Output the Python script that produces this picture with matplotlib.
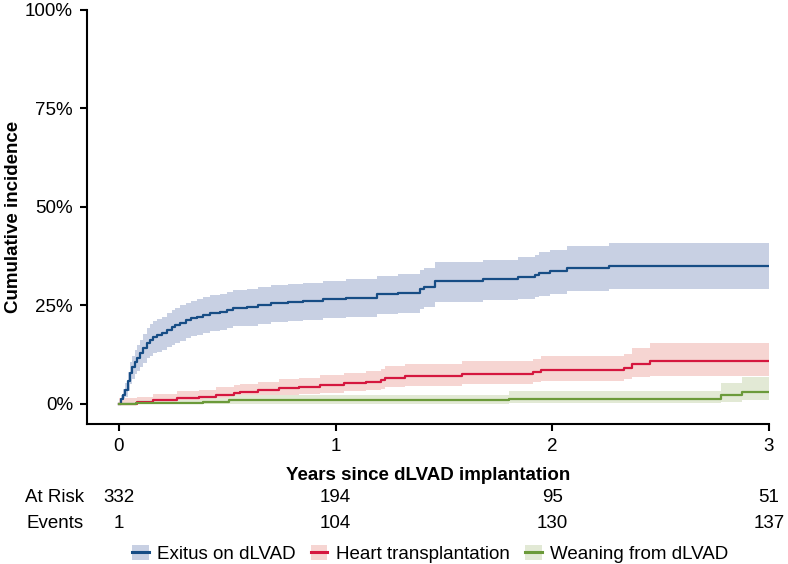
import matplotlib.pyplot as plt
import numpy as np
from matplotlib.patches import Patch
from matplotlib.lines import Line2D
from matplotlib import transforms

plt.rcParams['font.family'] = ['Liberation Sans', 'DejaVu Sans']

# exitus on dLVAD
exitus_t = [0, 0.01, 0.02, 0.028, 0.04, 0.05, 0.062, 0.074, 0.085, 0.097, 0.113, 0.129, 0.143,
            0.157, 0.175, 0.198, 0.22, 0.244, 0.26, 0.28, 0.31, 0.335, 0.36, 0.39, 0.42, 0.465,
            0.5, 0.525, 0.59, 0.64, 0.7, 0.78, 0.85, 0.94, 1.05, 1.19, 1.29, 1.39, 1.41, 1.46,
            1.68, 1.84, 1.92, 1.94, 1.99, 2.07, 2.26]
exitus_v = [0, 1.2, 2.4, 3.6, 5.8, 7.9, 9.3, 10.7, 11.8, 12.9, 14.2, 15.5, 16.2,
            17.0, 17.5, 18.0, 18.8, 19.5, 20.0, 20.6, 21.3, 21.7, 22.1, 22.6, 23.1, 23.4,
            23.8, 24.4, 24.6, 25.2, 25.6, 25.9, 26.2, 26.6, 26.9, 27.9, 28.2, 29.2, 29.7, 31.2,
            31.7, 32.2, 32.7, 33.2, 33.8, 34.5, 35.0]
exitus_lo = [0, 0.3, 1.0, 1.8, 3.4, 5.1, 6.3, 7.5, 8.5, 9.4, 10.5, 11.6, 12.2,
             12.9, 13.3, 13.8, 14.5, 15.1, 15.6, 16.1, 16.8, 17.2, 17.5, 18.0, 18.5, 18.8,
             19.2, 19.7, 19.9, 20.4, 20.8, 21.1, 21.3, 21.7, 22.0, 22.9, 23.2, 24.1, 24.6, 25.9,
             26.3, 26.7, 27.1, 27.5, 28.0, 28.6, 29.2]
exitus_hi = [0, 2.3, 3.9, 5.4, 8.1, 10.6, 12.2, 13.8, 15.0, 16.3, 17.8, 19.3, 20.2,
             21.1, 21.6, 22.2, 23.1, 23.8, 24.4, 25.0, 25.7, 26.2, 26.6, 27.1, 27.6, 27.9,
             28.3, 28.9, 29.1, 29.7, 30.1, 30.5, 30.8, 31.2, 31.6, 32.6, 33.0, 34.1, 34.6, 36.1,
             36.6, 37.3, 37.9, 38.5, 39.2, 40.1, 40.9]

# heart transplantation
htx_t = [0, 0.083, 0.157, 0.27, 0.37, 0.45, 0.53, 0.56, 0.64, 0.74, 0.83, 0.93, 1.04, 1.14,
         1.21, 1.23, 1.32, 1.585, 1.91, 1.95, 2.33, 2.37, 2.45]
htx_v = [0, 0.5, 1.0, 1.5, 1.8, 2.3, 2.8, 3.0, 3.5, 4.0, 4.3, 4.8, 5.3, 5.6,
         6.1, 6.6, 7.1, 7.6, 8.1, 8.6, 9.1, 10.2, 10.9]
htx_lo = [0, 0, 0.1, 0.4, 0.6, 0.9, 1.3, 1.5, 1.8, 2.2, 2.5, 2.9, 3.3, 3.6,
          3.9, 4.3, 4.6, 5.1, 5.5, 5.9, 6.3, 6.8, 7.1]
htx_hi = [1.5, 1.8, 2.6, 3.2, 3.6, 4.2, 4.8, 5.1, 5.7, 6.3, 6.7, 7.3, 7.9, 8.3,
          9.0, 9.6, 10.2, 10.9, 11.5, 12.1, 12.7, 14.2, 15.5]

# weaning
wean_t = [0, 0.08, 0.39, 0.51, 1.80, 2.78, 2.875]
wean_v = [0, 0.3, 0.6, 1.0, 1.3, 2.3, 3.0]
wean_lo = [0, 0, 0, 0.1, 0.2, 0.6, 0.9]
wean_hi = [0.5, 1.0, 1.5, 2.2, 3.3, 5.3, 6.9]

x_ticks = [0, 1, 2, 3]
at_risk = [332, 194, 95, 51]
events = [1, 104, 130, 137]

series = [
    ("Exitus on dLVAD", exitus_t, exitus_v, exitus_lo, exitus_hi, "#174d85", "#c8d0e3"),
    ("Heart transplantation", htx_t, htx_v, htx_lo, htx_hi, "#d5173f", "#f6d5d2"),
    ("Weaning from dLVAD", wean_t, wean_v, wean_lo, wean_hi, "#6b9a3a", "#e2e9d5"),
]

fig = plt.figure(figsize=(7.88, 5.64), dpi=100)
ax = fig.add_axes([0.1104, 0.2482, 0.8655, 0.7341])

FS = 13.5
handles = []
labels = []
for name, t, v, lo, hi, col, band in series:
    tt = np.append(t, 3.0)
    ax.fill_between(tt, np.append(lo, lo[-1]), np.append(hi, hi[-1]), step='post',
                    color=band, linewidth=0, zorder=1)
for name, t, v, lo, hi, col, band in series:
    tt = np.append(t, 3.0)
    ax.step(tt, np.append(v, v[-1]), where='post', color=col, lw=1.6, zorder=3)
    handles.append((Patch(facecolor=band, edgecolor='none'),
                    Line2D([], [], color=col, lw=2.2)))
    labels.append(name)

ax.set_xlim(-0.147, 3.0)
ax.set_ylim(-5.08, 100)
ax.set_yticks([0, 25, 50, 75, 100])
ax.set_yticklabels(["0%", "25%", "50%", "75%", "100%"])
ax.set_xticks(x_ticks)
ax.spines['top'].set_visible(False)
ax.spines['right'].set_visible(False)
for s in ['left', 'bottom']:
    ax.spines[s].set_linewidth(1.5)
ax.tick_params(width=1.5, length=5, labelsize=FS, pad=5)
ax.set_ylabel("Cumulative incidence", fontsize=FS, fontweight='bold')
ax.yaxis.set_label_coords(-0.096, 0.5)
ax.set_xlabel("Years since dLVAD implantation", fontsize=FS, fontweight='bold', labelpad=9)

# risk table
trans = transforms.blended_transform_factory(ax.transData, fig.transFigure)
for row_y, name, vals in [(1 - 498 / 564, "At Risk", at_risk), (1 - 523 / 564, "Events", events)]:
    fig.text(84 / 788, row_y, name, ha='right', va='center', fontsize=FS)
    for x, n in zip(x_ticks, vals):
        ax.text(x, row_y, str(n), transform=trans, ha='center', va='center', fontsize=FS,
                clip_on=False)

fig.legend(handles, labels, loc='center', bbox_to_anchor=(430 / 788, 1 - 554 / 564),
           ncol=3, frameon=False, fontsize=FS, handlelength=0.9, handleheight=0.85,
           handletextpad=0.45, columnspacing=0.8, borderpad=0)

fig.savefig("out.png", dpi=100)
